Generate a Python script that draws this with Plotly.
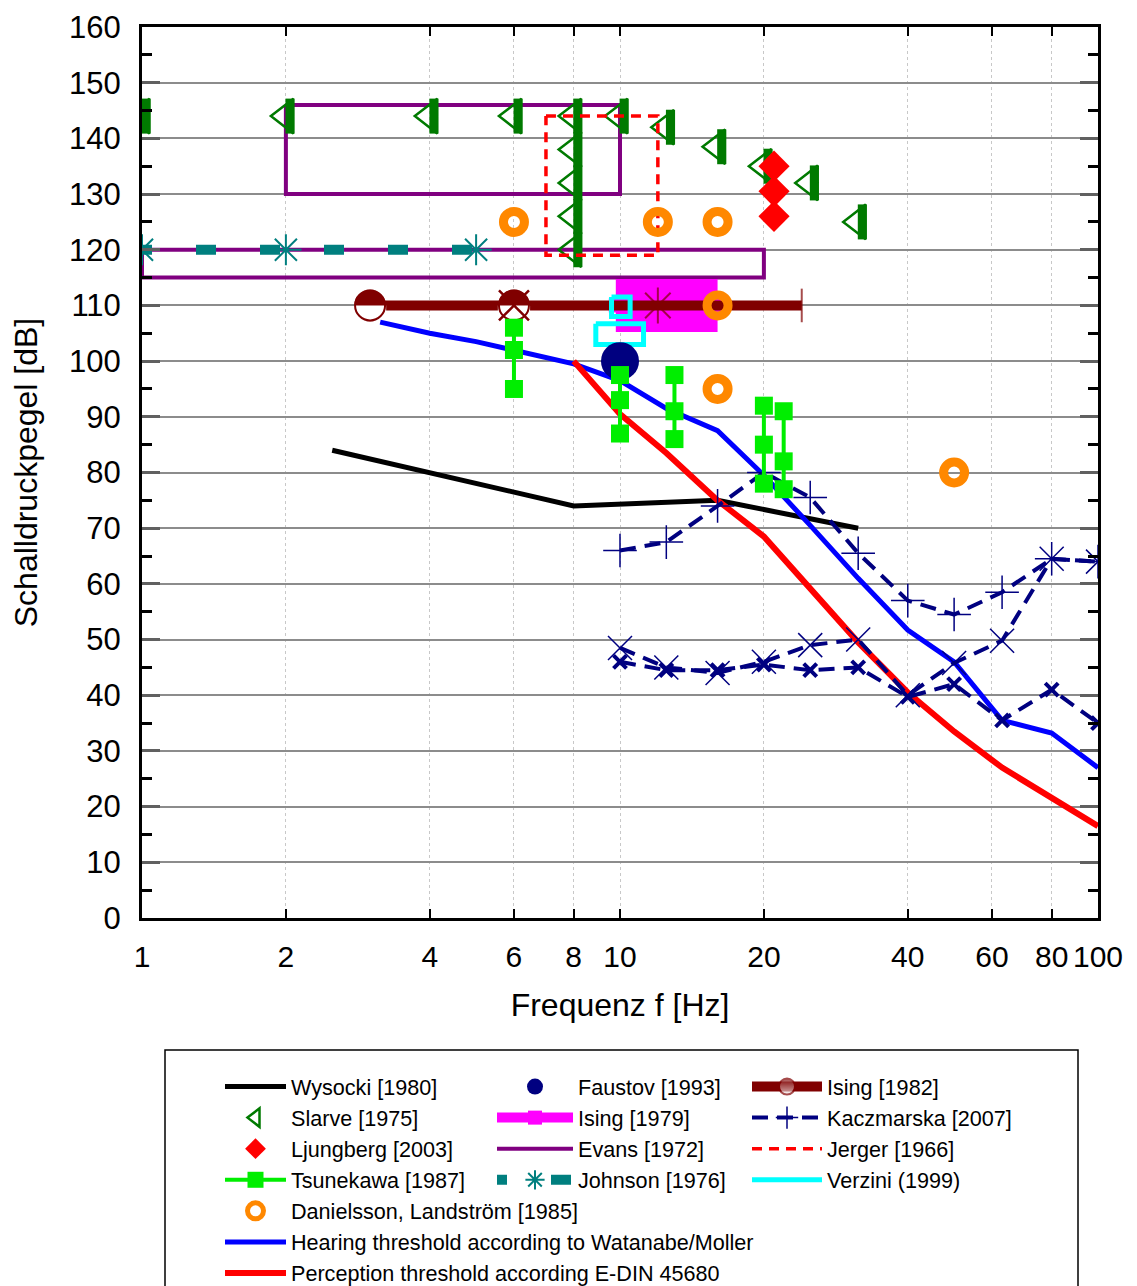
import plotly.graph_objects as go

# ---------------- data ----------------
x_ticks = [1, 2, 4, 6, 8, 10, 20, 40, 60, 80, 100]
x_ticktext = ["1", "2", "4", "6", "8", "10", "20", "40", "60", "80", "100"]

wys_f = [2.5, 8, 16, 31.5]
wys_db = [84, 74, 75, 70]

hear_f = [3.15, 4, 5, 6.3, 8, 10, 12.5, 16, 20, 25, 31.5, 40, 50, 63, 80, 100]
hear_db = [107, 105, 103.5, 101.5, 99.5, 96.5, 91.5, 87.5, 79.5, 70.5, 61, 51.7, 46, 35.5, 33.2, 27]

perc_f = [8, 10, 12.5, 16, 20, 25, 31.5, 40, 50, 63, 80, 100]
perc_db = [100, 90.5, 83.5, 75, 68.5, 59, 49.5, 40.5, 33.5, 27, 21.5, 16.5]

kacz_f = [10, 12.5, 16, 20, 25, 31.5, 40, 50, 63, 80, 100]
kacz_a_db = [66, 67.5, 74, 80, 75.5, 65.5, 57, 54.5, 58.5, 64.5, 64]
kacz_b_db = [48.5, 45, 44, 46, 49, 50, 40, 45.8, 49.8, 64.5, 64]
kacz_c_db = [46, 44.5, 44.5, 45.5, 44.5, 45, 39.7, 42, 35.5, 41, 35]

slarve_f = [1, 2, 4, 6, 8, 8, 8, 8, 8, 10, 12.5, 16, 20, 25, 31.5]
slarve_db = [144, 144, 144, 144, 144, 138, 132, 126, 120, 144, 142, 138.5, 135, 132, 125]

ljung_f = [21, 21, 21]
ljung_db = [135, 130.5, 126]

tsun_f = [6, 10, 13, 20, 22]
tsun_hi = [106, 97.5, 97.5, 92, 91]
tsun_mid = [102, 93, 91, 85, 82]
tsun_lo = [95, 87, 86, 78, 77]

dan_f = [6, 12, 16, 16, 16, 50]
dan_db = [125, 125, 125, 110, 95, 80]

faus_f = [10]
faus_db = [100]

evans_f0 = [2, 1]
evans_f1 = [10, 20]
evans_db0 = [130, 115]
evans_db1 = [146, 120]

jerger_f0 = [7]
jerger_f1 = [12]
jerger_db0 = [119]
jerger_db1 = [144]

verz_f0 = [9.6, 8.9]
verz_f1 = [10.5, 11.2]
verz_db0 = [108, 103]
verz_db1 = [111.5, 106.7]

ising79_f = [9.8, 16]
ising79_db = [110, 110]

ising82_f = [3, 6, 12, 24]
ising82_db = [110, 110, 110, 110]
ising82_half_f = [3, 6]
ising82_half_db = [110, 110]

johnson_f = [1, 2, 5]
johnson_db = [120, 120, 120]


# ---------------- helpers ----------------
def rects(f0s, f1s, d0s, d1s):
    xs, ys = [], []
    for f0, f1, d0, d1 in zip(f0s, f1s, d0s, d1s):
        xs += [f0, f1, f1, f0, f0, None]
        ys += [d1, d1, d0, d0, d1, None]
    return xs, ys


# page pixel -> paper coordinate (plot area spans page x 142..1098, y 27..918)
def px_x(p):
    return (p - 142) / 956.0


def px_y(p):
    return (918 - p) / 891.0


MAROON = "#800000"
NAVY = "#000080"
FONT = "Liberation Sans, Arial, sans-serif"

fig = go.Figure()

# Evans rectangles
ex, ey = rects(evans_f0, evans_f1, evans_db0, evans_db1)
fig.add_trace(go.Scatter(x=ex, y=ey, mode="lines", name="Evans [1972]",
                         line=dict(color="#800080", width=4),
                         legend="legend2", legendrank=3))

# Ising 1979 (thick magenta band)
fig.add_trace(go.Scatter(x=ising79_f, y=ising79_db, mode="lines+markers", name="Ising [1979]",
                         line=dict(color="#ff00ff", width=53),
                         marker=dict(symbol="square", size=14, color="#ff00ff"),
                         legend="legend2", legendrank=2))

# Johnson
fig.add_trace(go.Scatter(x=johnson_f, y=johnson_db, mode="lines+markers", name="Johnson [1976]",
                         line=dict(color="#007f7f", width=10, dash="10px,44px,10px,0px"),
                         marker=dict(symbol="asterisk-open", size=26, color="#007f7f",
                                     line=dict(width=2, color="#007f7f")),
                         legend="legend2", legendrank=4))

# Ising 1982
fig.add_trace(go.Scatter(x=ising82_f, y=ising82_db, mode="lines+markers", name="Ising [1982]",
                         line=dict(color=MAROON, width=10),
                         marker=dict(symbol=["circle", "circle", "asterisk-open", "line-ns-open"],
                                     size=[30, 30, 30, 24], color=MAROON,
                                     gradient=dict(type="vertical", color="white"),
                                     line=dict(width=2, color=MAROON)),
                         legend="legend3", legendrank=1))
fig.add_trace(go.Scatter(x=ising82_half_f, y=ising82_half_db, mode="markers", showlegend=False,
                         marker=dict(symbol="circle", size=30, color=MAROON)))
fig.add_trace(go.Scatter(x=ising82_half_f, y=ising82_half_db, mode="markers", showlegend=False,
                         marker=dict(symbol="line-ew-open", size=23, color="white", standoff=7.5,
                                     line=dict(width=15, color="white"))))
fig.add_trace(go.Scatter(x=ising82_half_f, y=ising82_half_db, mode="markers", showlegend=False,
                         marker=dict(symbol="circle-open", size=30, color=MAROON,
                                     line=dict(width=2, color=MAROON))))
fig.add_trace(go.Scatter(x=ising82_half_f[1:], y=ising82_half_db[1:], mode="markers", showlegend=False,
                         marker=dict(symbol="x-thin-open", size=30, color=MAROON,
                                     line=dict(width=2.5, color=MAROON))))

# Verzini
vx, vy = rects(verz_f0, verz_f1, verz_db0, verz_db1)
fig.add_trace(go.Scatter(x=vx, y=vy, mode="lines", name="Verzini (1999)",
                         line=dict(color="#00ffff", width=5),
                         legend="legend3", legendrank=4))

# Wysocki
fig.add_trace(go.Scatter(x=wys_f, y=wys_db, mode="lines", name="Wysocki [1980]",
                         line=dict(color="black", width=5),
                         legend="legend", legendrank=1))

# Hearing threshold
fig.add_trace(go.Scatter(x=hear_f, y=hear_db, mode="lines",
                         name="Hearing threshold according to Watanabe/Moller",
                         line=dict(color="#0000ff", width=5),
                         legend="legend", legendrank=6))

# Perception threshold
fig.add_trace(go.Scatter(x=perc_f, y=perc_db, mode="lines",
                         name="Perception threshold according E-DIN 45680",
                         line=dict(color="#ff0000", width=6),
                         legend="legend", legendrank=7))

# Kaczmarska (three series)
fig.add_trace(go.Scatter(x=kacz_f, y=kacz_a_db, mode="lines+markers", name="Kaczmarska [2007]",
                         line=dict(color=NAVY, width=4, dash="16px,9px"),
                         marker=dict(symbol="cross-thin-open", size=24, color=NAVY,
                                     line=dict(width=1.5, color=NAVY)),
                         legend="legend3", legendrank=2))
fig.add_trace(go.Scatter(x=kacz_f, y=kacz_b_db, mode="lines+markers", showlegend=False,
                         line=dict(color=NAVY, width=4, dash="16px,9px"),
                         marker=dict(symbol="x-thin-open", size=24, color=NAVY,
                                     line=dict(width=1.5, color=NAVY))))
fig.add_trace(go.Scatter(x=kacz_f, y=kacz_c_db, mode="lines+markers", showlegend=False,
                         line=dict(color=NAVY, width=4, dash="16px,9px"),
                         marker=dict(symbol="x-thin-open", size=13, color=NAVY,
                                     line=dict(width=4, color=NAVY))))

# Faustov
fig.add_trace(go.Scatter(x=faus_f, y=faus_db, mode="markers", name="Faustov [1993]",
                         marker=dict(symbol="circle", size=38, color=NAVY),
                         legend="legend2", legendrank=1))

# Tsunekawa (vertical ranges)
tx, ty = [], []
for f, hi, mid, lo in zip(tsun_f, tsun_hi, tsun_mid, tsun_lo):
    tx += [f, f, f, None]
    ty += [hi, mid, lo, None]
fig.add_trace(go.Scatter(x=tx, y=ty, mode="lines+markers", name="Tsunekawa [1987]",
                         line=dict(color="#00ee00", width=4),
                         marker=dict(symbol="square", size=18, color="#00ee00"),
                         legend="legend", legendrank=4))

# Slarve
fig.add_trace(go.Scatter(x=slarve_f, y=slarve_db, mode="markers", name="Slarve [1975]",
                         marker=dict(symbol="triangle-left-open", size=30, color="#007a00",
                                     line=dict(width=2.5, color="#007a00")),
                         legend="legend", legendrank=2))
fig.add_trace(go.Scatter(x=slarve_f, y=slarve_db, mode="markers", showlegend=False,
                         marker=dict(symbol="line-ew-open", size=25, color="#007a00",
                                     angle=-90, standoff=3.6,
                                     line=dict(width=8, color="#007a00"))))

# Ljungberg
fig.add_trace(go.Scatter(x=ljung_f, y=ljung_db, mode="markers", name="Ljungberg [2003]",
                         marker=dict(symbol="diamond", size=24, color="#ff0000"),
                         legend="legend", legendrank=3))

# Jerger
jx, jy = rects(jerger_f0, jerger_f1, jerger_db0, jerger_db1)
fig.add_trace(go.Scatter(x=jx, y=jy, mode="lines", name="Jerger [1966]",
                         line=dict(color="#ff0000", width=3.5, dash="10px,7px"),
                         legend="legend3", legendrank=3))

# Danielsson
fig.add_trace(go.Scatter(x=dan_f, y=dan_db, mode="markers", name="Danielsson, Landström [1985]",
                         marker=dict(symbol="circle-open", size=21, color="#ff8800",
                                     line=dict(width=9, color="#ff8800")),
                         legend="legend", legendrank=5))

# ---------------- layout ----------------
leg_common = dict(xanchor="left", yanchor="top", bgcolor="rgba(0,0,0,0)",
                  font=dict(family=FONT, size=21.6, color="black"),
                  tracegroupgap=0, traceorder="normal")

fig.update_layout(
    width=1129, height=1330,
    margin=dict(l=134, r=39, t=19, b=420),
    paper_bgcolor="white", plot_bgcolor="white",
    font=dict(family=FONT, color="black"),
    xaxis=dict(type="log", range=[0, 2], tickvals=x_ticks, ticktext=x_ticktext, tickangle=0,
               ticks="inside", ticklen=9, tickwidth=2, tickcolor="black",
               showline=True, linewidth=3, linecolor="black", mirror="ticks",
               showgrid=True, gridcolor="#c8c8c8", griddash="dot", gridwidth=1,
               tickfont=dict(size=30), ticklabelstandoff=10,
               title=dict(text="Frequenz f [Hz]", font=dict(size=32), standoff=22),
               zeroline=False, automargin=False),
    yaxis=dict(range=[0, 160], tick0=0, dtick=10,
               ticks="inside", ticklen=18, tickwidth=3, tickcolor="#606060",
               minor=dict(dtick=5, ticks="inside", ticklen=10, tickwidth=3, tickcolor="black",
                          showgrid=False),
               showline=True, linewidth=3, linecolor="black", mirror="ticks",
               showgrid=True, gridcolor="#8c8c8c", gridwidth=2,
               tickfont=dict(size=31), ticklabelstandoff=12,
               title=dict(text="Schalldruckpegel [dB]", font=dict(size=32), standoff=22),
               zeroline=False, automargin=False),
    showlegend=True,
    legend=dict(x=px_x(220), y=px_y(1066), itemwidth=61, **leg_common),
    legend2=dict(x=px_x(492), y=px_y(1066), itemwidth=76, **leg_common),
    legend3=dict(x=px_x(747), y=px_y(1066), itemwidth=70, **leg_common),
    shapes=[dict(type="rect", xref="paper", yref="paper",
                 x0=px_x(165), x1=px_x(1078), y0=px_y(1330), y1=px_y(1050),
                 line=dict(color="black", width=1.5), fillcolor="rgba(0,0,0,0)", layer="above")],
)

fig.write_html("out.html")
